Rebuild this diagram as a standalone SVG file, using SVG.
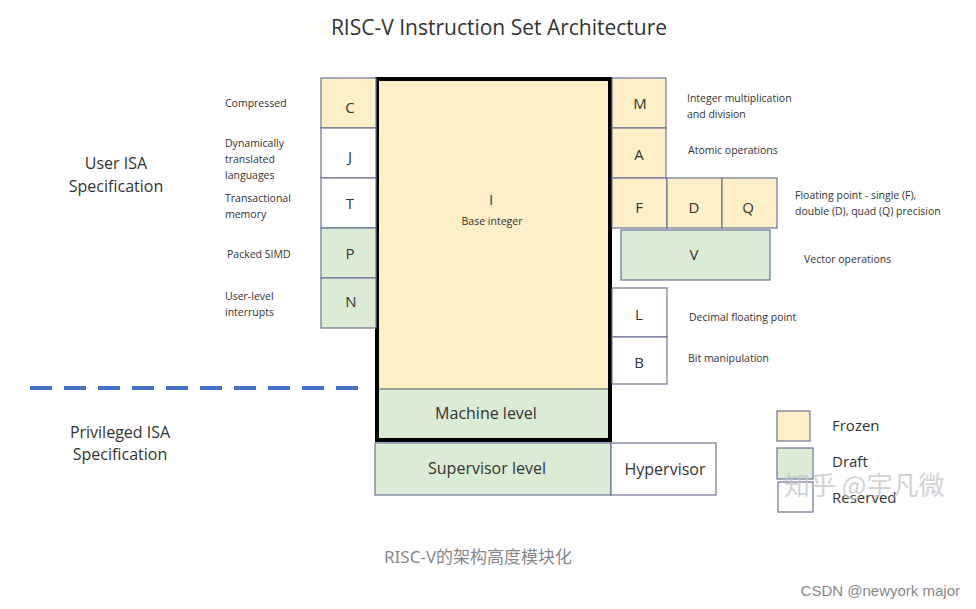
<svg xmlns="http://www.w3.org/2000/svg" width="976" height="609" viewBox="0 0 976 609">
<style>
text{font-family:"Open Sans","Liberation Sans",sans-serif;fill:#333}
.f{fill:#fdefc8;stroke:#6c7396;stroke-width:1.2}
.d{fill:#dcebd6;stroke:#6c7396;stroke-width:1.2}
.r{fill:#fff;stroke:#6c7396;stroke-width:1.2}
.L{font-size:15px;text-anchor:middle}
.s{font-size:10.5px}
.m{font-size:16px;text-anchor:middle}
</style>
<rect width="976" height="609" fill="#fff"/>
<text x="499" y="35" font-size="21" text-anchor="middle" fill="#222">RISC-V Instruction Set  Architecture</text>
<text x="116" y="169" class="m">User ISA</text>
<text x="116" y="192" class="m">Specification</text>
<text x="120" y="438" class="m">Privileged ISA</text>
<text x="120" y="460" class="m">Specification</text>
<g id="connectors"><line x1="30" y1="388" x2="362" y2="388" stroke="#4472c4" stroke-width="4" stroke-dasharray="22 12"/></g>
<g id="I"><rect x="377" y="79" width="233" height="361" fill="#fdefc8"/><text x="491" y="205" class="L">I</text><text x="492" y="225" class="s" text-anchor="middle">Base integer</text></g>
<g id="machine"><rect x="377" y="389" width="233" height="51" class="d" stroke="none"/><line x1="377" y1="389" x2="610" y2="389" stroke="#9a9a80"/><text x="486" y="419" class="m">Machine level</text></g>
<rect x="377" y="79" width="233" height="361" fill="none" stroke="#000" stroke-width="4"/>
<g id="C"><rect x="321" y="78" width="55" height="50" class="f"/><text x="350" y="113" class="L">C</text></g>
<g id="J"><rect x="321" y="128" width="55" height="50" class="r"/><text x="350" y="162" class="L">J</text></g>
<g id="T"><rect x="321" y="178" width="55" height="50" class="r"/><text x="350" y="209" class="L">T</text></g>
<g id="P"><rect x="321" y="228" width="55" height="50" class="d"/><text x="350" y="259" class="L">P</text></g>
<g id="N"><rect x="321" y="278" width="55" height="50" class="d"/><text x="351" y="307" class="L">N</text></g>
<text x="225" y="107" class="s">Compressed</text>
<text x="225" y="147" class="s">Dynamically</text><text x="225" y="163" class="s">translated</text><text x="225" y="179" class="s">languages</text>
<text x="225" y="202" class="s">Transactional</text><text x="225" y="218" class="s">memory</text>
<text x="227" y="258" class="s">Packed SIMD</text>
<text x="225" y="300" class="s">User-level</text><text x="225" y="316" class="s">interrupts</text>
<g id="M"><rect x="612" y="78" width="54" height="50" class="f"/><text x="640" y="109" class="L">M</text></g>
<g id="A"><rect x="612" y="128" width="54" height="50" class="f"/><text x="639" y="160" class="L">A</text></g>
<g id="F"><rect x="612" y="178" width="55" height="50" class="f"/><text x="639" y="213" class="L">F</text></g>
<g id="D"><rect x="667" y="178" width="55" height="50" class="f"/><text x="694" y="213" class="L">D</text></g>
<g id="Q"><rect x="722" y="178" width="55" height="50" class="f"/><text x="748" y="213" class="L">Q</text></g>
<g id="V"><rect x="621" y="230" width="149" height="50" class="d"/><text x="694" y="260" class="L">V</text></g>
<g id="Lx"><rect x="612" y="288" width="55" height="49" class="r"/><text x="639" y="320" class="L">L</text></g>
<g id="B"><rect x="612" y="337" width="55" height="47" class="r"/><text x="639" y="368" class="L">B</text></g>
<text x="687" y="102" class="s">Integer multiplication</text><text x="687" y="118" class="s">and division</text>
<text x="688" y="154" class="s">Atomic operations</text>
<text x="795" y="199" class="s">Floating point - single (F),</text><text x="795" y="215" class="s">double (D), quad (Q) precision</text>
<text x="804" y="263" class="s">Vector operations</text>
<text x="689" y="321" class="s">Decimal floating point</text>
<text x="688" y="362" class="s">Bit manipulation</text>
<g id="supervisor"><rect x="375" y="443" width="236" height="52" class="d"/><text x="487" y="474" class="m">Supervisor level</text></g>
<g id="hypervisor"><rect x="611" y="443" width="105" height="52" class="r"/><text x="665" y="475" class="m">Hypervisor</text></g>
<g id="legend">
<rect x="777" y="411" width="33" height="30" class="f"/><text x="832" y="431" font-size="15">Frozen</text>
<rect x="777" y="448" width="36" height="31" class="d"/><text x="832" y="467" font-size="15">Draft</text>
<rect x="778" y="482" width="35" height="30" class="r"/><text x="832" y="503" font-size="15">Reserved</text>
</g>
<text x="784" y="495" font-size="26" fill="#c8c8c8" style="fill:#c8c8c8;opacity:0.8;font-family:'Noto Sans CJK SC',sans-serif">知乎 @宇凡微</text>
<text x="384" y="563" font-size="17" style="fill:#888;font-family:'Noto Sans','Noto Sans CJK SC',sans-serif">RISC-V的架构高度模块化</text>
<text x="960" y="596" font-size="15" text-anchor="end" style="fill:#888;font-family:'Liberation Sans',sans-serif">CSDN @newyork major</text>
</svg>
